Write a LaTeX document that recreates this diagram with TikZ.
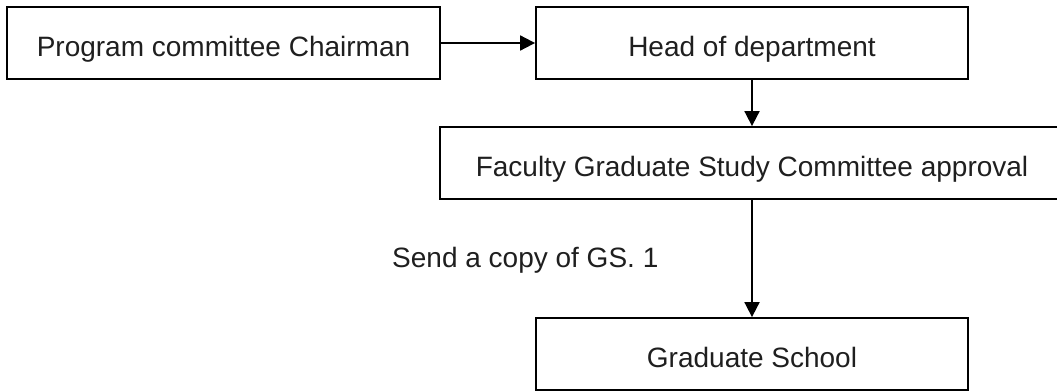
\documentclass[tikz,border=0pt]{standalone}
\usepackage{fontspec}
\setmainfont{Liberation Sans}
\usetikzlibrary{arrows.meta}
\begin{document}
\begin{tikzpicture}[x=1pt,y=-1pt,
  box/.style={draw=black, line width=1.8pt, rectangle, inner sep=0pt,
    minimum height=72pt, text height=30pt, text depth=4pt,
    font=\fontsize{28}{30}\selectfont, text=black!88},
  flow/.style={draw=black, line width=1.8pt,
    -{Triangle[length=15pt,width=15pt]}},
  note/.style={font=\fontsize{28}{30}\selectfont, text=black!88, inner sep=0pt}]
  \useasboundingbox (0,0) rectangle (1057,391);
  \clip (0,0) rectangle (1057,391);
  % process boxes
  \node[box, minimum width=433pt] (chair) at (223.5,43) {Program committee Chairman};
  \node[box, minimum width=432pt] (head)  at (752,43)   {Head of department};
  \node[box, minimum width=624pt] (fac)   at (752,163)  {Faculty Graduate Study Committee approval};
  \node[box, minimum width=432pt] (gs)    at (752,354)  {Graduate School};
  % connectors
  \draw[flow] (chair.east) -- (head.west);
  \draw[flow] (head.south) -- (fac.north);
  \draw[flow] (fac.south) -- (gs.north);
  % label beside the last connector
  \node[note, anchor=base west] (copy) at (392,267) {Send a copy of GS. 1};
\end{tikzpicture}
\end{document}
